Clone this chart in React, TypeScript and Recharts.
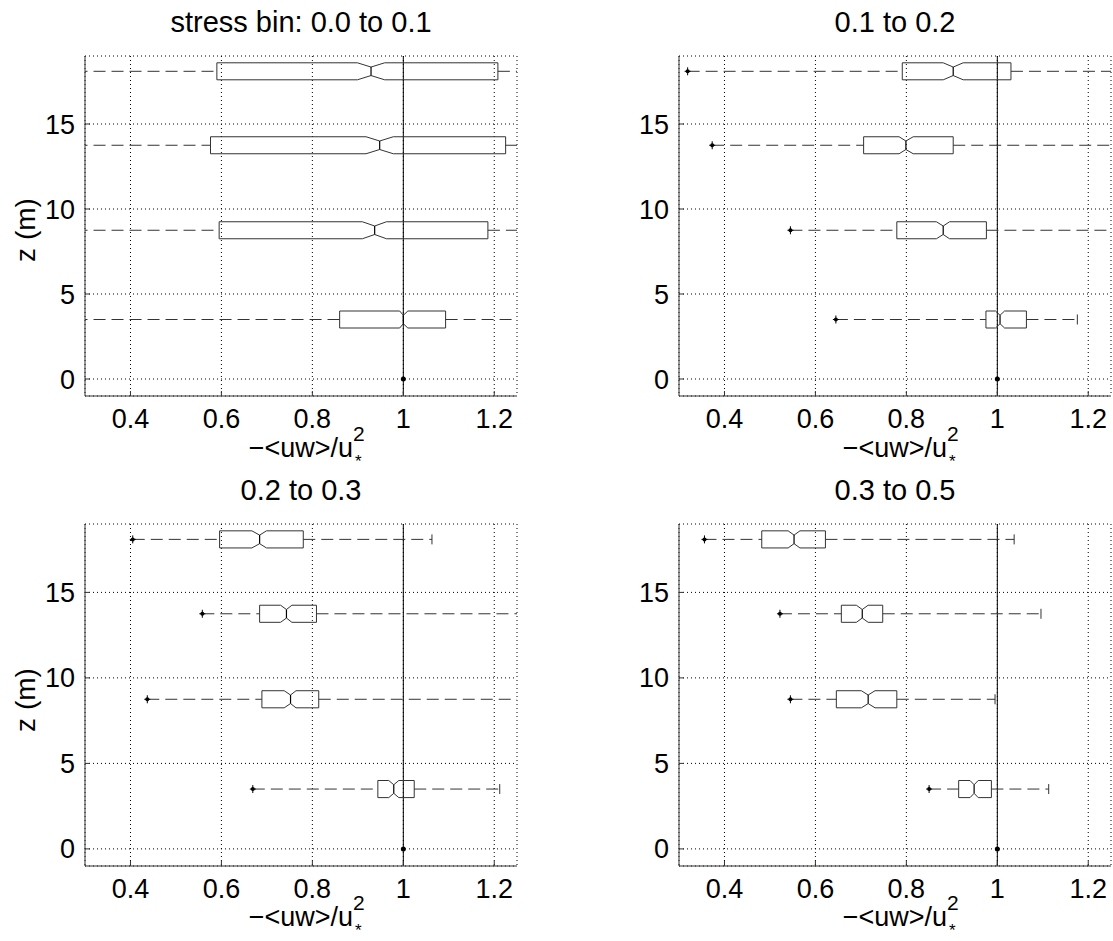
import React from "react";
import {
    ScatterChart,
    Scatter,
    XAxis,
    YAxis,
    CartesianGrid,
    ReferenceLine,
} from "recharts";

// heights of the four measuring levels (m), top to bottom
const zLevels = [18.1, 13.75, 8.75, 3.5];

const panelTitles = ["stress bin: 0.0 to 0.1", "0.1 to 0.2", "0.2 to 0.3", "0.3 to 0.5"];

const xTicks = [0.4, 0.6, 0.8, 1, 1.2];
const yTicks = [0, 5, 10, 15];

// box statistics, one row per panel, one value per level (same order as zLevels)
const q1Vals = [
    [0.59, 0.576, 0.595, 0.86],
    [0.791, 0.706, 0.779, 0.975],
    [0.596, 0.684, 0.689, 0.944],
    [0.482, 0.657, 0.646, 0.915],
];
const medianVals = [
    [0.929, 0.948, 0.937, 1.0],
    [0.903, 0.799, 0.881, 1.006],
    [0.684, 0.743, 0.752, 0.979],
    [0.553, 0.703, 0.716, 0.949],
];
const q3Vals = [
    [1.208, 1.225, 1.186, 1.093],
    [1.03, 0.903, 0.976, 1.064],
    [0.78, 0.809, 0.814, 1.024],
    [0.622, 0.748, 0.779, 0.987],
];
const notchLoVals = [
    [0.899, 0.918, 0.91, 0.992],
    [0.881, 0.784, 0.866, 0.996],
    [0.667, 0.73, 0.738, 0.968],
    [0.54, 0.69, 0.701, 0.94],
];
const notchHiVals = [
    [0.959, 0.978, 0.963, 1.01],
    [0.925, 0.815, 0.895, 1.016],
    [0.699, 0.755, 0.764, 0.99],
    [0.566, 0.716, 0.731, 0.958],
];
const whiskerLoVals = [
    [0.2, 0.2, 0.2, 0.2],
    [0.319, 0.373, 0.545, 0.645],
    [0.405, 0.558, 0.437, 0.669],
    [0.356, 0.522, 0.545, 0.85],
];
const whiskerHiVals = [
    [1.35, 1.35, 1.35, 1.35],
    [1.35, 1.35, 1.35, 1.176],
    [1.063, 1.35, 1.35, 1.212],
    [1.037, 1.096, 0.995, 1.113],
];

// reference point at the surface
const refPoint = [{ x: 1, y: 0 }];

const BOX_HALF = 0.5; // half thickness of a box, in z units
const NOTCH_HALF = 0.25; // half thickness at the median

// plot rectangles in page pixels
const panels = [
    { left: 85, top: 56, width: 432, height: 340 },
    { left: 679, top: 56, width: 432, height: 340 },
    { left: 85, top: 524, width: 432, height: 342 },
    { left: 679, top: 524, width: 432, height: 342 },
];

const FONT = "'Liberation Sans', Arial, Helvetica, sans-serif";
const INK = "#333";

const Nothing = () => <g />;

const PlusMarker = (props: any) => {
    const { cx, cy } = props;
    return (
        <g>
            <line x1={cx} y1={cy - 4} x2={cx} y2={cy + 4} stroke="#000" />
            <line x1={cx - 3} y1={cy} x2={cx + 3} y2={cy} stroke="#000" />
            <circle cx={cx} cy={cy} r={2} fill="#000" />
        </g>
    );
};

const CapMarker = (props: any) => {
    const { cx, cy } = props;
    return <line x1={cx} y1={cy - 5} x2={cx} y2={cy + 5} stroke={INK} />;
};

const DotMarker = (props: any) => {
    const { cx, cy } = props;
    return <circle cx={cx} cy={cy} r={2.5} fill="#000" />;
};

const buildBoxes = (p: number) =>
    zLevels.map((z, i) => ({
        z,
        q1: q1Vals[p][i],
        med: medianVals[p][i],
        q3: q3Vals[p][i],
        nLo: notchLoVals[p][i],
        nHi: notchHiVals[p][i],
        lo: whiskerLoVals[p][i],
        hi: whiskerHiVals[p][i],
    }));

const outline = (b: any) => [
    { x: b.q1, y: b.z + BOX_HALF },
    { x: b.nLo, y: b.z + BOX_HALF },
    { x: b.med, y: b.z + NOTCH_HALF },
    { x: b.nHi, y: b.z + BOX_HALF },
    { x: b.q3, y: b.z + BOX_HALF },
    { x: b.q3, y: b.z - BOX_HALF },
    { x: b.nHi, y: b.z - BOX_HALF },
    { x: b.med, y: b.z - NOTCH_HALF },
    { x: b.nLo, y: b.z - BOX_HALF },
    { x: b.q1, y: b.z - BOX_HALF },
    { x: b.q1, y: b.z + BOX_HALF },
];

const tickStyle = { fontSize: 27, fill: "#000", fontFamily: FONT };

const Panel = ({ index }: { index: number }) => {
    const r = panels[index];
    const boxes = buildBoxes(index);
    return (
        <div style={{ position: "absolute", left: r.left - 70, top: r.top - 10 }}>
            <ScatterChart
                width={r.width + 80}
                height={r.height + 60}
                margin={{ top: 10, right: 10, bottom: 0, left: 10 }}
            >
                <CartesianGrid stroke="#000" strokeDasharray="1 3" />
                <XAxis
                    dataKey="x"
                    type="number"
                    domain={[0.3, 1.25]}
                    allowDataOverflow
                    ticks={xTicks}
                    interval={0}
                    height={50}
                    tick={tickStyle}
                    tickSize={-5}
                    tickMargin={18}
                    axisLine={{ stroke: INK }}
                    tickLine={{ stroke: INK }}
                />
                <XAxis
                    xAxisId="top"
                    orientation="top"
                    type="number"
                    domain={[0.3, 1.25]}
                    allowDataOverflow
                    ticks={xTicks}
                    interval={0}
                    height={0}
                    tick={false}
                    tickSize={-5}
                    axisLine={{ stroke: INK }}
                    tickLine={{ stroke: INK }}
                />
                <YAxis
                    dataKey="y"
                    type="number"
                    domain={[-1, 19]}
                    allowDataOverflow
                    ticks={yTicks}
                    interval={0}
                    width={60}
                    tick={tickStyle}
                    tickSize={-5}
                    tickMargin={15}
                    axisLine={{ stroke: INK }}
                    tickLine={{ stroke: INK }}
                />
                <YAxis
                    yAxisId="right"
                    orientation="right"
                    type="number"
                    domain={[-1, 19]}
                    allowDataOverflow
                    ticks={yTicks}
                    interval={0}
                    width={0}
                    tick={false}
                    tickSize={-5}
                    axisLine={{ stroke: INK }}
                    tickLine={{ stroke: INK }}
                />
                <ReferenceLine x={1} stroke="#000" strokeWidth={1} />
                {boxes.map((b, i) => (
                    <React.Fragment key={i}>
                        <Scatter
                            data={[{ x: b.lo, y: b.z }, { x: b.q1, y: b.z }]}
                            line={{ stroke: INK, strokeDasharray: "12 6" }}
                            shape={Nothing}
                            isAnimationActive={false}
                        />
                        <Scatter
                            data={[{ x: b.q3, y: b.z }, { x: b.hi, y: b.z }]}
                            line={{ stroke: INK, strokeDasharray: "12 6" }}
                            shape={Nothing}
                            isAnimationActive={false}
                        />
                        <Scatter
                            data={outline(b)}
                            line={{ stroke: INK, strokeWidth: 1 }}
                            shape={Nothing}
                            isAnimationActive={false}
                        />
                        <Scatter
                            data={[{ x: b.med, y: b.z + NOTCH_HALF }, { x: b.med, y: b.z - NOTCH_HALF }]}
                            line={{ stroke: "#000", strokeWidth: 1.2 }}
                            shape={Nothing}
                            isAnimationActive={false}
                        />
                        <Scatter
                            data={[{ x: b.lo, y: b.z }]}
                            shape={PlusMarker}
                            isAnimationActive={false}
                        />
                        <Scatter
                            data={[{ x: b.hi, y: b.z }]}
                            shape={CapMarker}
                            isAnimationActive={false}
                        />
                    </React.Fragment>
                ))}
                <Scatter data={refPoint} shape={DotMarker} isAnimationActive={false} />
            </ScatterChart>
        </div>
    );
};

// "−<uw>/u*^2" with the star below and the 2 above, like the original
const XLabel = ({ cx, base }: { cx: number; base: number }) => (
    <text fontFamily={FONT} fill="#000">
        <tspan x={cx + 52} y={base} textAnchor="end" fontSize={27}>
            −&lt;uw&gt;/u
        </tspan>
        <tspan x={cx + 52} y={base - 16} fontSize={21}>
            2
        </tspan>
        <tspan x={cx + 54} y={base + 10} fontSize={17}>
            *
        </tspan>
    </text>
);

const YLabel = ({ cy }: { cy: number }) => (
    <text
        transform={`translate(35,${cy}) rotate(-90)`}
        textAnchor="middle"
        fontSize={28}
        fontFamily={FONT}
        fill="#000"
    >
        z (m)
    </text>
);

const App = () => {
    return (
        <div
            style={{
                position: "absolute",
                left: 0,
                top: 0,
                width: 1113,
                height: 941,
                overflow: "hidden",
                background: "#fff",
            }}
        >
            {panels.map((_, i) => (
                <Panel key={i} index={i} />
            ))}
            <svg
                width={1113}
                height={941}
                style={{ position: "absolute", left: 0, top: 0, pointerEvents: "none" }}
            >
                {panels.map((r, i) => (
                    <text
                        key={i}
                        x={r.left + r.width / 2}
                        y={r.top - 24}
                        textAnchor="middle"
                        fontSize={29}
                        fontFamily={FONT}
                        fill="#000"
                    >
                        {panelTitles[i]}
                    </text>
                ))}
                <XLabel cx={301} base={457} />
                <XLabel cx={895} base={457} />
                <XLabel cx={301} base={926} />
                <XLabel cx={895} base={926} />
                <YLabel cy={230} />
                <YLabel cy={700} />
            </svg>
        </div>
    );
};

export default App;
